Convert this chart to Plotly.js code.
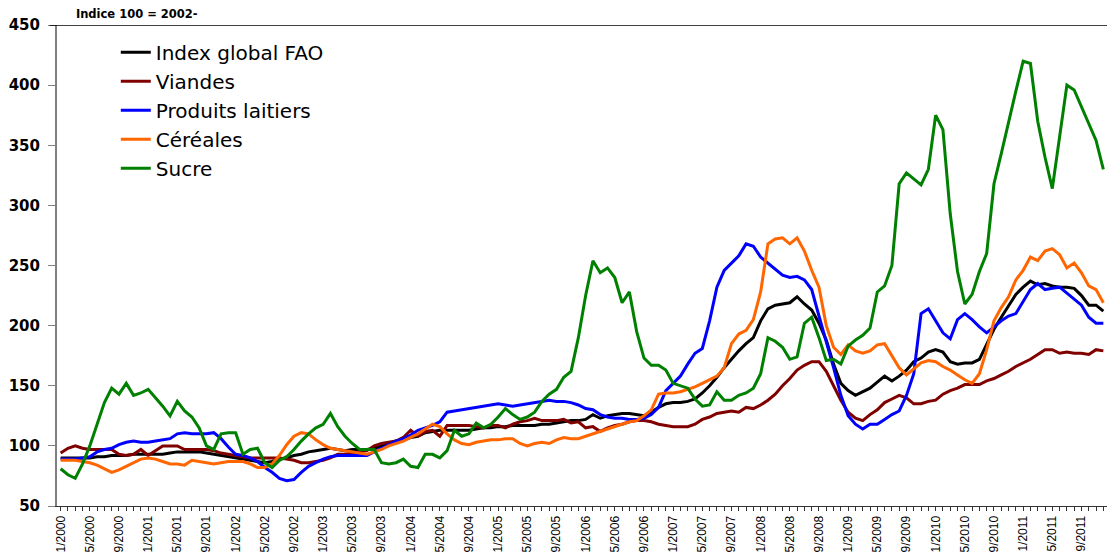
<!DOCTYPE html>
<html>
<head>
<meta charset="utf-8">
<script src="https://cdn.plot.ly/plotly-3.0.1.min.js"></script>
<style>html,body{margin:0;padding:0;background:#fff;}#chart{width:1107px;height:554px;}</style>
</head>
<body>
<div id="chart"></div>
<script>
// Monthly categories 1/2000 .. 12/2011
var months = [];
for (var yr = 2000; yr <= 2011; yr++) { for (var m = 1; m <= 12; m++) { months.push(m + '/' + yr); } }
// a label every 4 months, blank otherwise (a tick mark every month)
var tickLabels = months.map(function (d, i) { return i % 4 === 0 ? d : ''; });

var indexFAO = [90,90,90,90,90,91,91,92,92,92,93,93,
  93,93,93,94,95,95,95,95,94,93,92,91,
  90,89,88,87,86,87,89,90,92,93,95,96,
  97,98,97,96,97,97,97,98,100,102,104,105,
  107,108,111,112,113,113,113,113,113,114,115,115,
  116,116,117,117,117,117,118,118,119,120,121,121,
  122,126,123,125,126,127,127,126,125,128,132,135,
  136,136,137,139,144,150,157,165,172,179,185,190,
  204,214,217,218,219,224,218,213,202,188,168,152,
  146,142,145,148,153,158,154,158,163,170,173,178,
  180,178,170,168,169,169,172,185,197,207,217,226,
  232,237,234,235,233,232,232,231,225,217,217,212];

var viandes = [94,98,100,98,97,97,97,97,93,92,93,97,
  92,96,100,100,100,97,97,97,97,96,94,93,
  92,91,90,90,90,90,90,89,88,86,86,87,
  88,90,93,93,94,95,96,100,102,103,104,107,
  113,108,112,113,108,117,117,117,117,116,115,117,
  117,115,118,120,121,123,121,121,121,122,119,120,
  115,116,112,115,117,118,120,121,121,120,118,117,
  116,116,116,118,122,124,127,128,129,128,132,131,
  134,138,143,150,156,163,167,170,170,162,150,138,
  128,123,121,126,130,136,139,142,140,135,135,137,
  138,143,146,148,151,151,151,154,156,159,162,166,
  169,172,176,180,180,177,178,177,177,176,180,179];

var laitiers = [89,89,89,90,91,95,97,98,101,103,104,103,
  103,104,105,106,110,111,110,110,110,111,106,99,
  93,92,90,87,82,78,73,71,72,78,83,86,
  89,91,92,92,92,92,92,95,98,101,104,106,
  109,113,115,117,120,128,129,130,131,132,133,134,
  135,134,133,134,135,136,137,138,137,137,136,134,
  131,130,126,124,123,123,122,122,123,126,132,146,
  152,158,168,177,181,204,232,246,252,258,268,266,
  257,252,247,242,240,241,238,230,208,187,165,142,
  125,118,114,118,118,122,126,129,142,160,210,214,
  204,194,189,205,210,205,199,194,199,204,208,210,
  220,230,235,230,231,232,227,222,217,207,202,202];

var cereales = [88,88,88,87,86,84,81,78,80,83,86,89,
  90,89,87,85,85,84,88,87,86,85,86,87,
  87,87,85,82,82,85,92,101,108,111,110,105,
  101,98,97,96,95,94,93,95,97,100,102,104,
  107,110,114,118,116,110,105,102,101,103,104,105,
  105,106,106,102,100,102,103,102,105,107,106,106,
  108,110,112,114,116,118,120,121,125,130,143,144,
  144,145,147,149,152,155,158,165,185,193,196,205,
  228,268,272,273,268,273,262,246,232,200,182,176,
  184,179,177,179,184,185,175,165,159,164,169,171,
  170,166,163,159,155,152,160,180,204,215,224,238,
  246,257,254,262,264,259,248,252,244,233,230,219];

var sucre = [81,76,73,85,100,118,136,148,143,152,142,144,
  147,140,133,125,137,129,124,115,100,97,110,111,
  111,93,97,98,86,82,88,91,97,104,110,115,
  118,127,116,108,102,97,97,97,86,85,86,89,
  83,82,93,93,90,96,113,108,110,119,115,118,
  124,131,126,122,124,128,137,143,147,157,162,190,
  225,254,244,248,240,219,228,195,173,167,167,163,
  152,150,148,139,133,134,145,138,138,142,144,148,
  160,190,187,182,172,174,202,207,190,171,172,168,
  183,188,192,198,228,233,250,318,327,322,317,330,
  375,363,293,245,218,226,245,260,318,343,370,395,
  420,418,370,340,314,358,400,396,382,368,354,330];

var xIdx = months.map(function (d, i) { return i; });

function series(name, y, color, g) {
  return {
    type: 'scatter', mode: 'lines', name: name, x: xIdx, y: y,
    text: months, hovertemplate: '%{text}: %{y}<extra>' + name + '</extra>',
    line: {color: color, width: 3}, legendgroup: g
  };
}

var data = [
  series('Index global FAO', indexFAO, '#000000', 'a'),
  series('Viandes', viandes, '#800000', 'b'),
  series('Produits laitiers', laitiers, '#0000FF', 'c'),
  series('Céréales', cereales, '#FF6600', 'd'),
  series('Sucre', sucre, '#008000', 'e')
];

var layout = {
  width: 1107, height: 554,
  margin: {l: 57, r: 0, t: 25, b: 48, pad: 0},
  paper_bgcolor: '#ffffff', plot_bgcolor: '#ffffff',
  showlegend: true,
  title: {
    text: 'Indice 100 = 2002-',
    font: {family: 'DejaVu Sans, Verdana, sans-serif', size: 11.5, weight: 'bold', color: '#000'},
    xref: 'paper', x: 0.018, xanchor: 'left',
    yref: 'container', y: 0.975, yanchor: 'middle'
  },
  legend: {
    x: 0.056, xanchor: 'left', y: 0.984, yanchor: 'top',
    bgcolor: 'rgba(0,0,0,0)', borderwidth: 0,
    font: {family: 'DejaVu Sans, Arial, sans-serif', size: 20, color: '#000'},
    tracegroupgap: 0, traceorder: 'grouped'
  },
  xaxis: {
    type: 'linear', range: [-0.5, 143.5],
    tickmode: 'array', tickvals: xIdx, ticktext: tickLabels,
    tickangle: -90,
    tickfont: {family: 'Liberation Sans, Arial, sans-serif', size: 12, color: '#000'},
    ticks: 'outside', ticklen: 4, tickcolor: '#333333', tickwidth: 1,
    showline: true, linecolor: '#333333', linewidth: 1,
    showgrid: false, zeroline: false, fixedrange: true
  },
  yaxis: {
    range: [50, 450], tickmode: 'linear', tick0: 50, dtick: 50,
    ticks: 'outside', ticklen: 7, tickcolor: '#808080', tickwidth: 1,
    showline: true, linecolor: '#808080', linewidth: 2,
    tickfont: {family: 'DejaVu Sans, Arial, sans-serif', size: 15, weight: 'bold', color: '#000'},
    ticklabelstandoff: 5,
    showgrid: false, zeroline: false, fixedrange: true
  },
  shapes: [
    {type: 'line', xref: 'paper', yref: 'y', x0: -0.007, x1: 1, y0: 450, y1: 450,
     line: {color: '#000000', width: 1.5}}
  ]
};

Plotly.newPlot('chart', data, layout, {displayModeBar: false, responsive: false});
</script>
</body>
</html>
